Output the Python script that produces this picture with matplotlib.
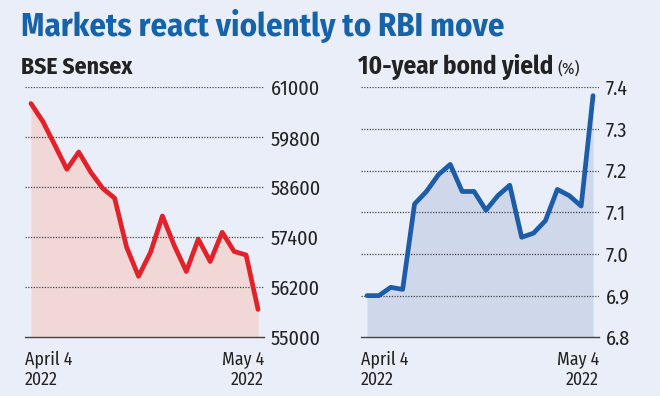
import matplotlib
matplotlib.use("Agg")
import matplotlib.pyplot as plt

# Trading days, April 4 - May 4 2022
days = ["Apr 4", "Apr 5", "Apr 6", "Apr 7", "Apr 8", "Apr 11", "Apr 12", "Apr 13",
        "Apr 18", "Apr 19", "Apr 20", "Apr 21", "Apr 22", "Apr 25", "Apr 26",
        "Apr 27", "Apr 28", "Apr 29", "May 2", "May 4"]

sensex = [60611, 60176, 59610, 59034, 59447, 58964, 58576, 58339, 57166, 56463,
          57037, 57912, 57197, 56580, 57357, 56819, 57521, 57061, 56976, 55669]

bond_yield = [6.90, 6.90, 6.92, 6.915, 7.12, 7.15, 7.19, 7.215, 7.15, 7.15,
              7.105, 7.14, 7.165, 7.04, 7.05, 7.08, 7.155, 7.14, 7.115, 7.38]

sensex_ticks = [55000, 56200, 57400, 58600, 59800, 61000]
yield_ticks = [6.8, 6.9, 7.0, 7.1, 7.2, 7.3, 7.4]

BG = "#e9eef8"
TXT = "#222222"
FONT = ["Fira Sans Condensed", "DejaVu Sans"]
plt.rcParams["font.family"] = FONT

fig = plt.figure(figsize=(6.6, 3.96), dpi=100, facecolor=BG)
W, H = 660, 396


def fx(px):
    return px / W


def fy(py):
    return 1 - py / H


def panel(ax, values, ticks, tick_fmt, line_col, fill_col):
    x = list(range(len(values)))
    ax.set_facecolor(BG)
    ax.fill_between(x, ticks[0], values, color=fill_col, lw=0, zorder=1)
    ax.plot(x, values, color=line_col, lw=3.4, solid_joinstyle="round",
            solid_capstyle="round", zorder=3)
    ax.set_xlim(-0.5, len(values) - 0.5)
    ax.set_ylim(ticks[0], ticks[-1])
    ax.set_yticks(ticks)
    ax.set_yticklabels([tick_fmt(t) for t in ticks])
    ax.yaxis.tick_right()
    ax.tick_params(axis="y", length=0, pad=5, labelsize=14.5, labelcolor=TXT)
    ax.set_xticks([])
    for t in ticks[1:]:
        ax.axhline(t, color="#444444", lw=0.9, ls=(0, (1, 1.2)), zorder=2)
    ax.axhline(ticks[0], color="#444444", lw=1.0, zorder=4, clip_on=False)
    for s in ax.spines.values():
        s.set_visible(False)
    # date labels
    kw = dict(transform=ax.transAxes, va="top", fontsize=12.8, color=TXT)
    ax.text(0, -0.052, "April 4", ha="left", **kw)
    ax.text(0, -0.136, "2022", ha="left", **kw)
    ax.text(1, -0.052, "May 4", ha="right", **kw)
    ax.text(1, -0.136, "2022", ha="right", **kw)


ax1 = fig.add_axes([fx(25), fy(337.3), fx(239), (337.3 - 87.3) / H])
panel(ax1, sensex, sensex_ticks, lambda t: f"{t:d}", "#e2222a", "#f1d8d6")

ax2 = fig.add_axes([fx(361), fy(337.3), fx(238), (337.3 - 87.3) / H])
panel(ax2, bond_yield, yield_ticks, lambda t: f"{t:.1f}", "#1c5ca8", "#cfd7ea")

fig.text(fx(21), fy(36), "Markets react violently to RBI move", ha="left",
         va="baseline", fontsize=23.5, fontweight="bold", color="#1763aa")
fig.text(fx(21), fy(74), "BSE Sensex", ha="left", va="baseline",
         fontsize=17, fontweight="bold", color=TXT)
t = fig.text(fx(358), fy(74), "10-year bond yield", ha="left", va="baseline",
             fontsize=18, fontweight="bold", color=TXT)
fig.canvas.draw()
bb = t.get_window_extent()
fig.text((bb.x1 + 4) / W, fy(74), "(%)", ha="left", va="baseline",
         fontsize=12, color=TXT)

fig.savefig("out.png", dpi=100, facecolor=BG)
